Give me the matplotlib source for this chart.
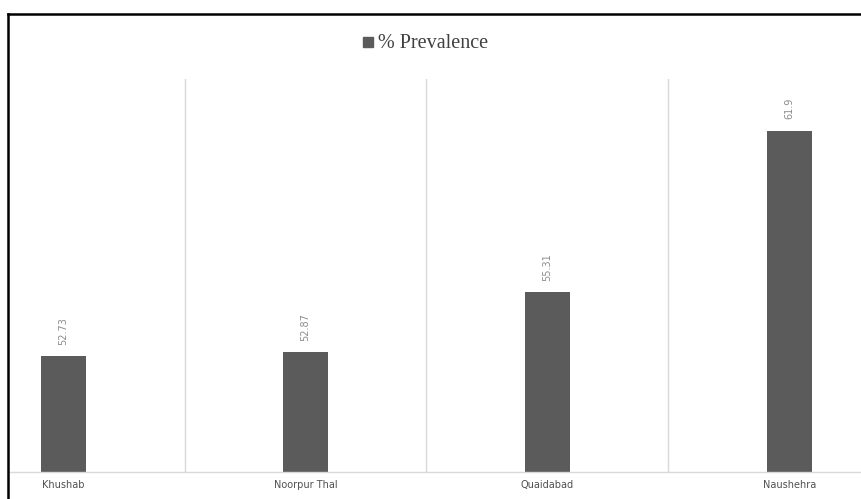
import matplotlib
matplotlib.use("Agg")
import matplotlib.pyplot as plt
from matplotlib.lines import Line2D
from matplotlib.patches import Rectangle

# Data
districts = ["Khushab", "Noorpur Thal", "Quaidabad", "Naushehra"]
prevalence = [52.73, 52.87, 55.31, 61.9]
value_labels = ["52.73", "52.87", "55.31", "61.9"]
series_name = "% Prevalence"

W, H = 862, 499
fig = plt.figure(figsize=(W / 100, H / 100), dpi=100)
fig.patch.set_facecolor("white")

# Plot area in pixel coordinates
left_px, right_px, top_px, base_px = 10, 862, 79, 472
ax = fig.add_axes([left_px / W, 1 - base_px / H,
                   (right_px - left_px) / W, (base_px - top_px) / H])

bar_color = "#5b5b5b"
x = list(range(len(districts)))
px_per_cat = 242.0
x0 = -(63.5 - left_px) / px_per_cat
x1 = x0 + (right_px - left_px) / px_per_cat
ax.set_xlim(x0, x1)
ax.set_ylim(48, 64)

# Vertical separators between categories
for b in [0.5, 1.5, 2.5]:
    ax.axvline(b, color="#d9d9d9", lw=1.0, zorder=0)

bars = ax.bar(x, prevalence, width=45 / px_per_cat, bottom=0,
              color=bar_color, zorder=2)

for xi, v, lab in zip(x, prevalence, value_labels):
    ax.annotate(lab, (xi, v), xytext=(0, 8), textcoords="offset points",
                rotation=90, ha="center", va="bottom",
                fontsize=7, color="#8c8c8c", family="DejaVu Sans")

for s in ["top", "right", "left"]:
    ax.spines[s].set_visible(False)
ax.spines["bottom"].set_color("#d9d9d9")
ax.spines["bottom"].set_linewidth(1.0)
ax.set_yticks([])
ax.set_xticks(x)
ax.set_xticklabels(districts, fontsize=7, color="#505050", family="DejaVu Sans")
ax.tick_params(axis="x", length=0, pad=6)
ax.patch.set_alpha(0)

# Legend entry at the top
fig.patches.append(Rectangle((363 / W, 1 - 47 / H), 10 / W, 10 / H,
                             transform=fig.transFigure, color=bar_color))
fig.text(378 / W, 1 - 47.5 / H, series_name, fontsize=14.5,
         family="Liberation Serif", color="#404040", ha="left", va="baseline")

# Frame lines on the top and left edges
fig.add_artist(Line2D([8 / W, 1], [1 - 14 / H, 1 - 14 / H],
                      transform=fig.transFigure, color="black", lw=1.8))
fig.add_artist(Line2D([8 / W, 8 / W], [0, 1 - 14 / H],
                      transform=fig.transFigure, color="black", lw=1.8))

fig.savefig("out.png", dpi=100, facecolor="white")
